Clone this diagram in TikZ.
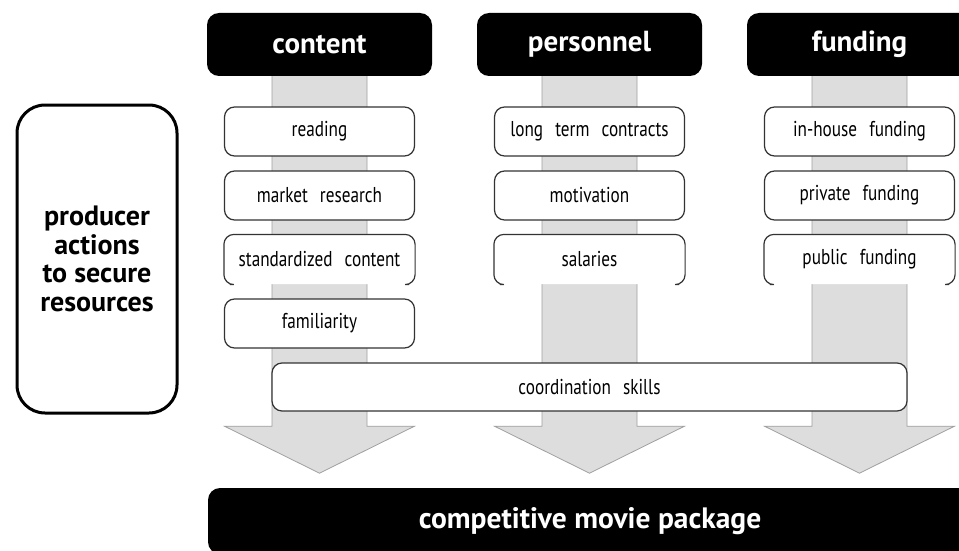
\documentclass[tikz,border=0pt]{standalone}
\usepackage{fontspec}
\setmainfont{PT Sans}
\newfontfamily\itemfont[FakeStretch=0.80]{PT Sans}
\usetikzlibrary{calc}
\definecolor{shaftfill}{HTML}{DDDDDD}
\definecolor{shaftedge}{HTML}{A0A0A0}
\definecolor{itemedge}{HTML}{333333}
\begin{document}
\begin{tikzpicture}[x=1pt,y=-1pt,
  headbox/.style={fill=black, rounded corners=12pt, minimum width=225pt, minimum height=63pt,
    inner sep=0pt, text=white, font=\fontsize{29}{32}\selectfont\bfseries},
  itembox/.style={fill=white, draw=itemedge, line width=1.2pt, rounded corners=10pt,
    minimum width=190pt, minimum height=49pt, inner sep=0pt, text=black,
    font=\itemfont\fontsize{21.5}{24}\selectfont},
  openbox/.style={itembox, draw=none},
  openedge/.style={draw=itemedge, line width=1.2pt, rounded corners=10pt},
  shaft/.style={fill=shaftfill, draw=shaftedge, line width=0.8pt}
]
\useasboundingbox (0,0) rectangle (959,551);
\clip (0,0) rectangle (959,551);

% column headers
\node[headbox] (content)   at (319.5,44.5) {content};
\node[headbox] (personnel) at (589.5,44.5) {personnel};
\node[headbox] (funding)   at (859.5,44.5) {funding};

% grey arrows
\foreach \c in {content,personnel,funding}{
  \path[shaft] ($(\c.south)+(-47.5,0)$) -- ++(0,350) -- ++(-47.5,0) -- ++(95,47)
     -- ++(95,-47) -- ++(-47.5,0) -- ++(0,-350);
}

% left box
\node[draw=black, line width=3pt, rounded corners=28pt, minimum width=160pt, minimum height=308pt,
  align=center, font=\fontsize{28}{28.5}\selectfont\bfseries, text=black] (producer) at (97,259)
  {producer\\actions\\to secure\\resources};

% content column
\node[itembox] (reading)  at (319.5,131.5) {reading};
\node[itembox] (market)   at (319.5,195.5) {market\hspace{0.35em} research};
\node[openbox] (standard) at (319.5,259.5) {standardized\hspace{0.35em} content};
\node[itembox] (familiar) at (319.5,323.5) {familiarity};

% personnel column
\node[itembox] (contracts)  at (589.5,131.5) {long\hspace{0.35em} term\hspace{0.35em} contracts};
\node[itembox] (motivation) at (589.5,195.5) {motivation};
\node[openbox] (salaries)   at (589.5,259.5) {salaries};

% funding column
\node[itembox] (inhouse) at (859.5,131.5) {in-house\hspace{0.35em} funding};
\node[itembox] (private) at (859.5,195.5) {private\hspace{0.35em} funding};
\node[openbox] (public)  at (859.5,259.5) {public\hspace{0.35em} funding};

% open-bottom outlines
\foreach \n in {standard,salaries,public}{
  \draw[openedge] ($(\n.south west)+(6,0)$) -- (\n.south west) -- (\n.north west)
     -- (\n.north east) -- (\n.south east) -- ($(\n.south east)+(-6,0)$);
}

% coordination skills
\node[itembox, minimum width=635pt, minimum height=48pt] (coord) at (589.5,387) {coordination\hspace{0.35em} skills};

% result
\node[fill=black, rounded corners=12pt, minimum width=764pt, minimum height=66pt, inner sep=0pt,
  text=white, font=\fontsize{29.5}{32}\selectfont\bfseries] (package) at (590,521) {competitive movie package};
\end{tikzpicture}
\end{document}
